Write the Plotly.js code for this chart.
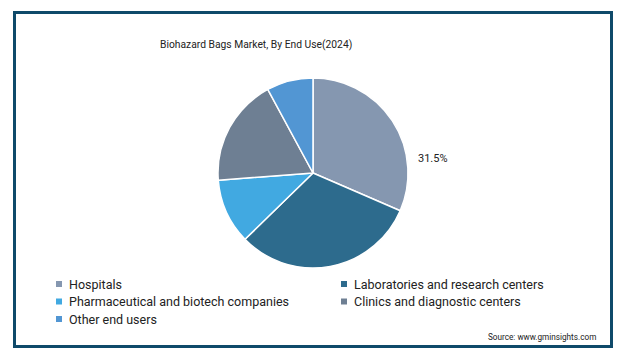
<!DOCTYPE html>
<html>
<head>
<meta charset="utf-8">
<script src="https://cdn.plot.ly/plotly-3.0.1.min.js"></script>
<style>
html,body{margin:0;padding:0;background:#ffffff;}
#chart{width:640px;height:355px;}
</style>
</head>
<body>
<div id="chart"></div>
<script>
const categories = [
  "Hospitals",
  "Laboratories and research centers",
  "Pharmaceutical and biotech companies",
  "Clinics and diagnostic centers",
  "Other end users"
];
const shares = [31.5, 31.2, 11.1, 18.3, 7.9];
const sliceColors = ["#8597B0", "#2D6B8D", "#41A9E1", "#6E7F93", "#5296D3"];
const titleText = "Biohazard Bags Market, By End Use(2024)";
const sourceText = "Source: www.gminsights.com";

const font = "Roboto, 'Noto Sans', sans-serif";
const W = 640, H = 355;
const px = v => v / W;
const py = v => 1 - v / H;

const trace = {
  type: "pie",
  labels: categories,
  values: shares,
  sort: false,
  direction: "clockwise",
  rotation: 0,
  textinfo: "none",
  hoverinfo: "label+percent",
  marker: {colors: sliceColors, line: {color: "#ffffff", width: 1.5}},
  domain: {x: [px(218), px(408)], y: [py(268), py(78)]}
};

const annotations = [
  {text: titleText, xref: "paper", yref: "paper", x: px(256), y: py(44),
   xanchor: "center", yanchor: "middle", showarrow: false,
   font: {family: font, size: 10.3, color: "#222222"}},
  {text: shares[0].toFixed(1) + "%", xref: "paper", yref: "paper", x: px(433), y: py(158),
   xanchor: "center", yanchor: "middle", showarrow: false,
   font: {family: font, size: 11, color: "#222222"}},
  {text: sourceText, xref: "paper", yref: "paper", x: px(598), y: py(337),
   xanchor: "right", yanchor: "middle", showarrow: false,
   font: {family: font, size: 8.2, color: "#222222"}}
];

const shapes = [
  {type: "rect", xref: "paper", yref: "paper",
   x0: px(14.5), x1: px(611.5), y0: py(346.5), y1: py(12.5),
   line: {color: "#0F4A6A", width: 3}, fillcolor: "rgba(0,0,0,0)"}
];

// legend: two columns, row-major
const legCols = [59, 344];
const legRows = [284, 301.5, 319];
categories.forEach((name, i) => {
  const cx = legCols[i % 2], cy = legRows[Math.floor(i / 2)];
  shapes.push({type: "rect", xref: "paper", yref: "paper",
    x0: px(cx - 3), x1: px(cx + 3), y0: py(cy + 3), y1: py(cy - 3),
    line: {width: 0}, fillcolor: sliceColors[i]});
  annotations.push({text: name, xref: "paper", yref: "paper", x: px(cx + 8), y: py(cy),
    xanchor: "left", yanchor: "middle", showarrow: false,
    font: {family: font, size: 12.5, color: "#222222"}});
});

const layout = {
  width: W,
  height: H,
  margin: {l: 0, r: 0, t: 0, b: 0},
  paper_bgcolor: "#ffffff",
  font: {family: font, color: "#333333"},
  showlegend: false,
  annotations: annotations,
  shapes: shapes
};

Plotly.newPlot("chart", [trace], layout, {displayModeBar: false, staticPlot: true});
</script>
</body>
</html>
